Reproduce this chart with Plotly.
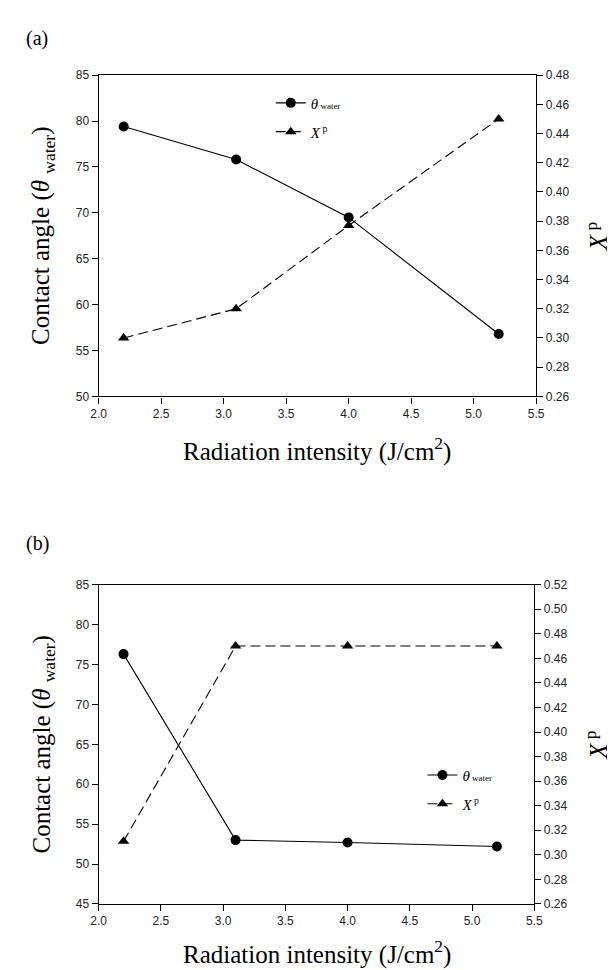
import plotly.graph_objects as go

# ---- data ----
intensity = [2.2, 3.1, 4.0, 5.2]
theta_a = [79.4, 75.8, 69.5, 56.8]
xp_a = [0.300, 0.320, 0.377, 0.450]
theta_b = [76.3, 53.0, 52.7, 52.2]
xp_b = [0.311, 0.470, 0.470, 0.470]

x_ticks = [2.0, 2.5, 3.0, 3.5, 4.0, 4.5, 5.0, 5.5]

W, H = 615, 970
def px(x):
    return x / W
def py(y):
    return 1 - y / H

# panel geometry (pixels)
a_left, a_right, a_top, a_bot = 85, 535, 61, 387
b_left, b_right, b_top, b_bot = 85, 533, 578, 902

tickfont = dict(family="Liberation Sans, Arial, sans-serif", size=12, color="#222")
serif = "Liberation Serif, Times New Roman, serif"

fig = go.Figure()

theta_name = ("<span style='font-size:15px'><i>θ</i></span>"
              "<span style='font-size:9px'> water</span>")
xp_name = ("<span style='font-size:15px'><i>X</i></span>"
           "<span style='font-size:14px'><sup> p</sup></span>")

line_solid = dict(color="black", width=1.1)
line_dash = dict(color="black", width=1.1, dash="10px,5px")
m_circ = dict(symbol="circle", size=10, color="black")
m_tri = dict(symbol="triangle-up", size=10, color="black")

# panel (a)
fig.add_trace(go.Scatter(x=intensity, y=theta_a, mode="lines+markers", name=theta_name,
                         line=line_solid, marker=m_circ, legendgroup="a1",
                         xaxis="x", yaxis="y", legend="legend"))
fig.add_trace(go.Scatter(x=intensity, y=xp_a, mode="lines+markers", name=xp_name,
                         line=line_dash, marker=m_tri, legendgroup="a2",
                         xaxis="x", yaxis="y2", legend="legend"))
# panel (b)
fig.add_trace(go.Scatter(x=intensity, y=theta_b, mode="lines+markers", name=theta_name,
                         line=line_solid, marker=m_circ, legendgroup="b1",
                         xaxis="x2", yaxis="y3", legend="legend2"))
fig.add_trace(go.Scatter(x=intensity, y=xp_b, mode="lines+markers", name=xp_name,
                         line=line_dash, marker=m_tri, legendgroup="b2",
                         xaxis="x2", yaxis="y4", legend="legend2"))

common_x = dict(range=[2.0, 5.5], tickvals=x_ticks, tickformat=".1f", ticks="outside", ticklen=6,
                showline=True, linecolor="black", linewidth=1.2, mirror=True, showgrid=False, zeroline=False,
                tickfont=tickfont, tickcolor="black")
common_y = dict(ticks="outside", ticklen=6, showline=True, linecolor="black", linewidth=1.2,
                showgrid=False, zeroline=False, tickfont=tickfont, tickcolor="black")

legend_style = dict(xanchor="left", yanchor="top", bgcolor="rgba(0,0,0,0)",
                    font=dict(family=serif, size=16, color="black"), itemwidth=30,
                    traceorder="grouped", tracegroupgap=5)

fig.update_layout(
    width=W, height=H, margin=dict(l=0, r=0, t=0, b=0),
    paper_bgcolor="white", plot_bgcolor="white", showlegend=True,
    xaxis=dict(domain=[px(a_left), px(a_right)], anchor="y", **common_x),
    yaxis=dict(domain=[py(a_bot), py(a_top)], anchor="x", range=[50, 85], dtick=5, **common_y),
    yaxis2=dict(overlaying="y", side="right", anchor="x", range=[0.26, 0.48], dtick=0.02, tickformat=".2f", **common_y),
    xaxis2=dict(domain=[px(b_left), px(b_right)], anchor="y3", **common_x),
    yaxis3=dict(domain=[py(b_bot), py(b_top)], anchor="x2", range=[45, 85], dtick=5, **common_y),
    yaxis4=dict(overlaying="y3", side="right", anchor="x2", range=[0.26, 0.52], dtick=0.02, tickformat=".2f", **common_y),
    legend=dict(x=px(262), y=py(72), **legend_style),
    legend2=dict(x=px(418), y=py(754), **legend_style),
)

title_font = dict(family=serif, size=25, color="black")
ann = []
ann.append(dict(text="(a)", x=px(8), y=py(24), xref="paper", yref="paper", xanchor="left", yanchor="middle",
                showarrow=False, font=dict(family=serif, size=20, color="black")))
ann.append(dict(text="(b)", x=px(8), y=py(536), xref="paper", yref="paper", xanchor="left", yanchor="middle",
                showarrow=False, font=dict(family=serif, size=20, color="black")))
for ytop, ybot, xt_y in [(a_top, a_bot, 441), (b_top, b_bot, 951)]:
    ymid = (ytop + ybot) / 2
    ann.append(dict(text="Radiation intensity (J/cm<sup>2</sup>)", x=px(310), y=py(xt_y), xref="paper", yref="paper",
                    xanchor="center", yanchor="middle", showarrow=False, font=title_font))
    ann.append(dict(text="Contact angle (<i>θ</i> <sub>water</sub>)", x=px(28), y=py(ymid), xref="paper", yref="paper",
                    xanchor="center", yanchor="middle", textangle=-90, showarrow=False, font=title_font))
    ann.append(dict(text="<i>X</i><sup> p</sup>", x=px(597), y=py(ymid), xref="paper", yref="paper",
                    xanchor="center", yanchor="middle", textangle=-90, showarrow=False, font=title_font))
fig.update_layout(annotations=ann)

fig.write_html("out.html")
